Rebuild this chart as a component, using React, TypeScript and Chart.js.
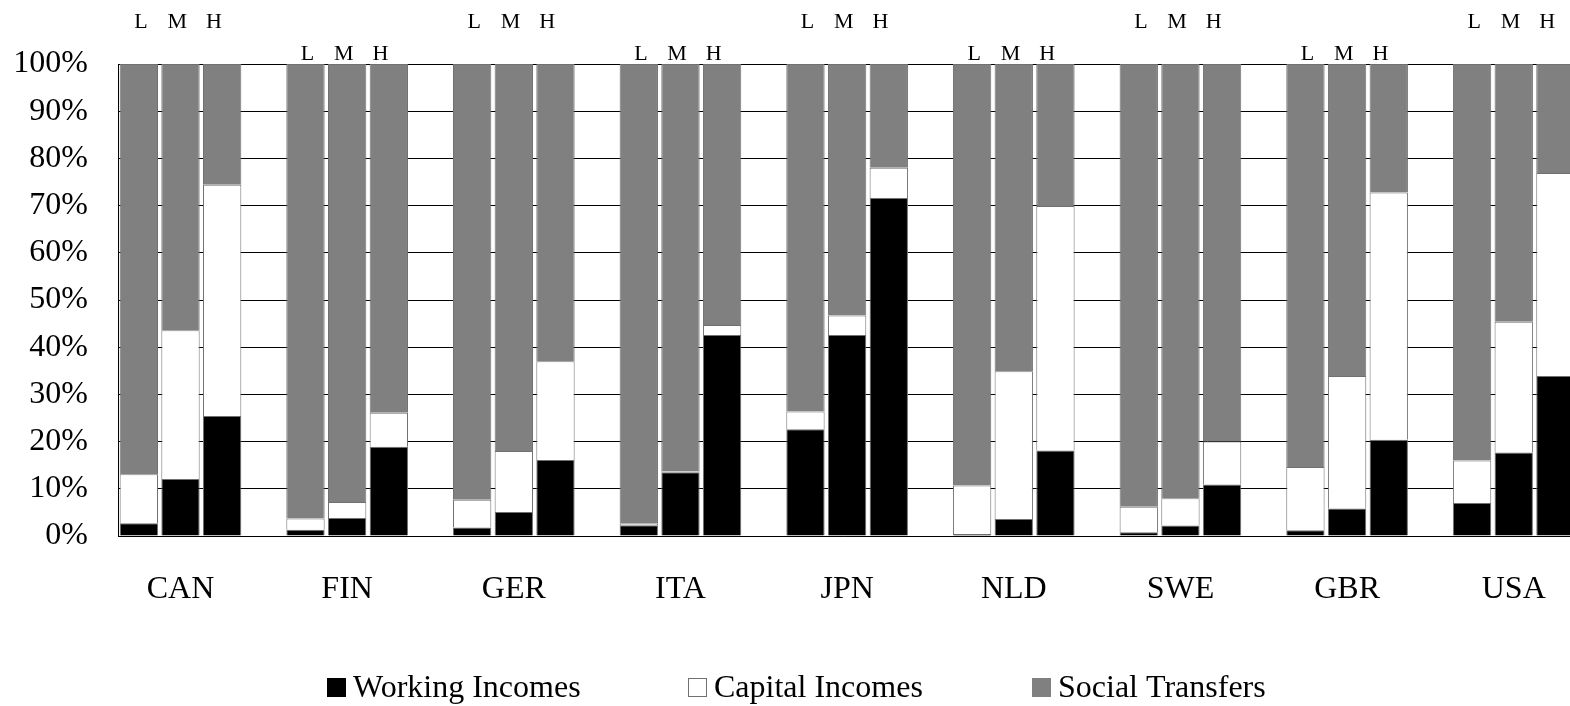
import React, { useEffect, useRef } from 'react';
import { Chart, registerables } from 'chart.js';

Chart.register(...registerables);

const countries = ['CAN', 'FIN', 'GER', 'ITA', 'JPN', 'NLD', 'SWE', 'GBR', 'USA'];
const levels = ['L', 'M', 'H'];

// values per country in order L, M, H (percent of income)
const workingIncomes = [
  2.7, 12.1, 25.4,
  1.3, 3.8, 18.9,
  1.8, 5.1, 16.1,
  2.3, 13.5, 42.6,
  22.6, 42.6, 71.6,
  0.4, 3.6, 18.1,
  0.8, 2.2, 10.9,
  1.2, 5.8, 20.4,
  7.0, 17.7, 33.9,
];
const capitalIncomes = [
  10.4, 31.5, 49.0,
  2.4, 3.4, 7.2,
  5.9, 12.9, 20.9,
  0.3, 0.2, 2.1,
  3.8, 4.1, 6.4,
  10.3, 31.3, 51.8,
  5.4, 5.8, 9.1,
  13.4, 28.1, 52.4,
  9.0, 27.7, 43.0,
];
const socialTransfers = [
  86.9, 56.4, 25.6,
  96.3, 92.8, 73.9,
  92.3, 82.0, 63.0,
  97.4, 86.3, 55.3,
  73.6, 53.3, 22.0,
  89.3, 65.1, 30.1,
  93.8, 92.0, 80.0,
  85.4, 66.1, 27.2,
  84.0, 54.6, 23.1,
];
const seriesNames = ['Working Incomes', 'Capital Incomes', 'Social Transfers'];

const FONT = "'Liberation Serif', 'Times New Roman', serif";
const SLOTS = 4; // L, M, H + one empty slot per country
const slotOf = (k: number) => Math.floor(k / 3) * SLOTS + (k % 3);
const toPoints = (arr: number[]) => arr.map((v, k) => ({ x: slotOf(k), y: v }));

const colors = ['#000000', '#ffffff', '#808080'];

const labelPlugin = {
  id: 'groupLabelsAndLegend',
  afterDraw(chart: any) {
    const ctx = chart.ctx as CanvasRenderingContext2D;
    const xs = chart.scales.x;
    ctx.save();
    ctx.fillStyle = '#000';
    ctx.font = `22px ${FONT}`;
    ctx.textAlign = 'center';
    ctx.textBaseline = 'alphabetic';
    const offs = [-0.95, -0.08, 0.8];
    countries.forEach((_, i) => {
      const mid = i * SLOTS + 1;
      const y = i % 2 === 0 ? 28 : 60;
      levels.forEach((lv, j) => {
        ctx.fillText(lv, xs.getPixelForValue(mid + offs[j]), y);
      });
    });
    // legend
    const sqX = [327, 688, 1032];
    ctx.font = `32px ${FONT}`;
    ctx.textAlign = 'left';
    seriesNames.forEach((name, i) => {
      const x = sqX[i];
      ctx.fillStyle = colors[i];
      ctx.fillRect(x, 678, 19, 19);
      if (i === 1) {
        ctx.strokeStyle = '#707070';
        ctx.lineWidth = 1;
        ctx.strokeRect(x + 0.5, 678.5, 18, 18);
      }
      ctx.fillStyle = '#000';
      ctx.fillText(name, x + 26, 697);
    });
    ctx.restore();
  },
};

export default function App() {
  const ref = useRef<HTMLCanvasElement | null>(null);
  useEffect(() => {
    if (!ref.current) return;
    const chart = new Chart(ref.current, {
      type: 'bar',
      data: {
        datasets: [workingIncomes, capitalIncomes, socialTransfers].map((arr, i) => ({
          label: seriesNames[i],
          data: toPoints(arr),
          backgroundColor: colors[i],
          borderColor: '#707070',
          borderWidth: 1,
          barPercentage: 0.92,
          categoryPercentage: 1,
        })),
      },
      options: {
        responsive: false,
        animation: false,
        devicePixelRatio: 1,
        layout: { padding: { top: 64, left: 0, right: 0, bottom: 0 } },
        font: { family: FONT },
        plugins: { legend: { display: false }, tooltip: { enabled: false } },
        scales: {
          x: {
            type: 'linear',
            stacked: true,
            offset: false,
            min: -0.5,
            max: 34.35,
            grid: { display: false },
            border: { display: true, color: '#000', width: 1 },
            ticks: {
              color: '#000',
              font: { family: FONT, size: 32 },
              padding: 26,
              maxRotation: 0,
              autoSkip: false,
              callback: (v: any) => {
                const idx = (Number(v) - 1) / SLOTS;
                return countries[idx] ?? '';
              },
            },
            afterBuildTicks: (s: any) => {
              s.ticks = countries.map((_, i) => ({ value: i * SLOTS + 1 }));
            },
            afterFit: (s: any) => {
              s.height = 170;
              s.paddingLeft = 0;
              s.paddingRight = 0;
            },
          },
          y: {
            stacked: true,
            min: 0,
            max: 100,
            ticks: {
              stepSize: 10,
              color: '#000',
              font: { family: FONT, size: 32 },
              padding: 30,
              callback: (v: any) => `${v}%`,
            },
            grid: { color: '#000', lineWidth: 1, drawTicks: false },
            border: { display: true, color: '#000', width: 1 },
            afterFit: (s: any) => {
              s.width = 118;
            },
          },
        },
      } as any,
      plugins: [labelPlugin],
    });
    return () => chart.destroy();
  }, []);
  return (
    <div style={{ position: 'fixed', left: 0, top: 0, width: 1570, height: 706, background: '#fff' }}>
      <canvas ref={ref} width={1570} height={706} style={{ display: 'block' }} />
    </div>
  );
}
